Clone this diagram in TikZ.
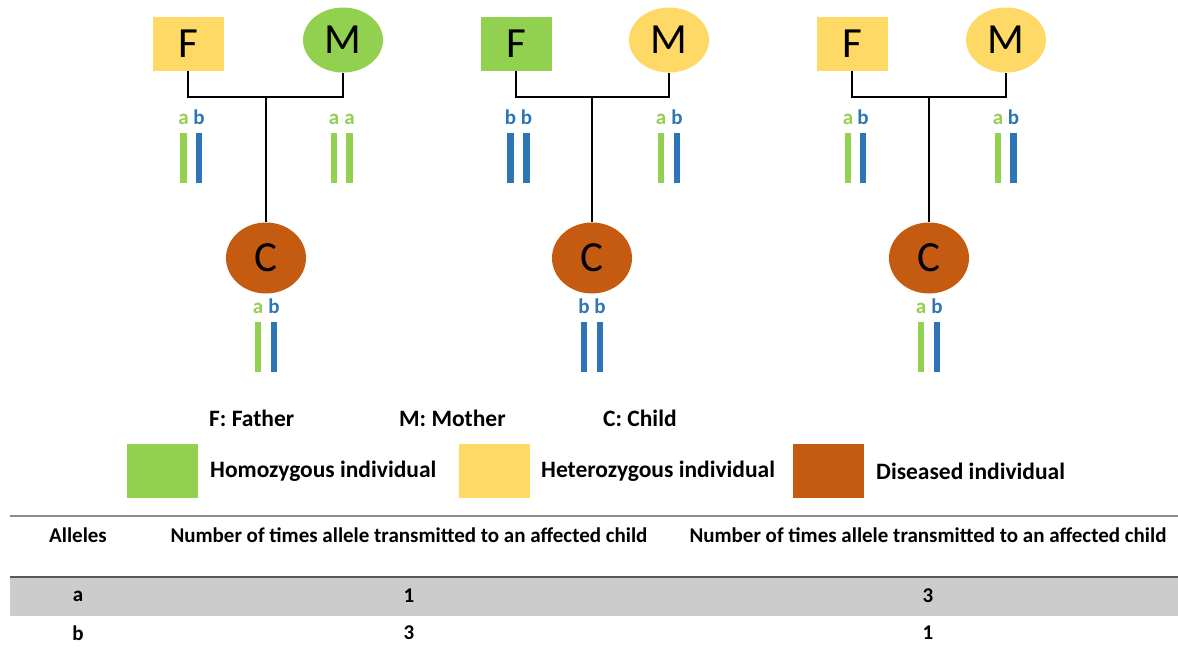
\documentclass[tikz,border=0pt]{standalone}
\usepackage{fontspec}
\setmainfont{Carlito}
\usetikzlibrary{shapes.geometric,positioning}

\definecolor{homo}{HTML}{92D050}
\definecolor{het}{HTML}{FFD966}
\definecolor{dis}{HTML}{C55A11}
\definecolor{chrom}{HTML}{2E75B6}
\definecolor{band}{HTML}{CCCCCC}
\definecolor{rulegray}{HTML}{8C8C8C}

\tikzset{
  person/.style={inner sep=0pt, font=\fontsize{43}{43}\selectfont},
  male/.style={person, rectangle, minimum width=71pt, minimum height=54pt},
  female/.style={person, ellipse, minimum width=80pt, minimum height=65pt},
  kid/.style={person, ellipse, fill=dis, minimum width=80pt, minimum height=71pt},
  link/.style={line width=1.3pt},
  bar/.style={rectangle, inner sep=0pt, minimum width=6.5pt, minimum height=50pt},
  lbl/.style={font=\bfseries\fontsize{21}{21}\selectfont, inner sep=0pt, anchor=base, yshift=8pt},
  alla/.style={bar, fill=homo, label={[lbl, text=homo]north:a}},
  allb/.style={bar, fill=chrom, label={[lbl, text=chrom]north:b}},
  key/.style={font=\bfseries\fontsize{23.5}{23.5}\selectfont, anchor=west, inner sep=0pt},
  swatch/.style={rectangle, inner sep=0pt, minimum width=71pt, minimum height=54pt},
  cell/.style={font=\bfseries\fontsize{21}{21}\selectfont, inner sep=0pt},
}

\begin{document}
\begin{tikzpicture}[x=1pt, y=-1pt, on grid]
	\useasboundingbox (0,0) rectangle (1178,649);

	% family 1
	\node[male, fill=het] (f1) at (188,44) {F};
	\node[female, fill=homo] (m1) [right=155pt of f1, yshift=4pt] {M};
	\coordinate (j1) at (266,97);
	\node[kid] (c1) at (266,258) {C};
	\draw[link] (f1.south) |- (j1) -| (m1.south);
	\draw[link] (j1) -- (c1);
	\node[alla] (f1a) at (183.5,158) {};
	\node[allb] (f1b) at (199,158) {};
	\node[alla] (m1a) at (334,158) {};
	\node[alla] (m1b) at (349.5,158) {};
	\node[alla] (c1a) at (258,346.5) {};
	\node[allb] (c1b) at (274,346.5) {};

	% family 2
	\node[male, fill=homo] (f2) at (516,44) {F};
	\node[female, fill=het] (m2) [right=153pt of f2, yshift=4pt] {M};
	\coordinate (j2) at (592,97);
	\node[kid] (c2) at (592,258) {C};
	\draw[link] (f2.south) |- (j2) -| (m2.south);
	\draw[link] (j2) -- (c2);
	\node[allb] (f2a) at (510.5,158) {};
	\node[allb] (f2b) at (526.5,158) {};
	\node[alla] (m2a) at (661,158) {};
	\node[allb] (m2b) at (677,158) {};
	\node[allb] (c2a) at (584,346.5) {};
	\node[allb] (c2b) at (600,346.5) {};

	% family 3
	\node[male, fill=het] (f3) at (852,44) {F};
	\node[female, fill=het] (m3) [right=154pt of f3, yshift=4pt] {M};
	\coordinate (j3) at (929,97);
	\node[kid] (c3) at (929,258) {C};
	\draw[link] (f3.south) |- (j3) -| (m3.south);
	\draw[link] (j3) -- (c3);
	\node[alla] (f3a) at (848,158) {};
	\node[allb] (f3b) at (863,158) {};
	\node[alla] (m3a) at (998,158) {};
	\node[allb] (m3b) at (1013.5,158) {};
	\node[alla] (c3a) at (921,346.5) {};
	\node[allb] (c3b) at (937,346.5) {};

	% legend
	\node[key] (kf) at (209,418) {F: Father};
	\node[key] (km) at (399,418) {M: Mother};
	\node[key] (kc) at (603,418) {C: Child};
	\node[swatch, fill=homo] (sh) at (162.5,470.5) {};
	\node[key] (th) at (210,471) {Homozygous individual};
	\node[swatch, fill=het] (sz) at (494,470.5) {};
	\node[key] (tz) at (541,471) {Heterozygous individual};
	\node[swatch, fill=dis] (sd) at (828,470.5) {};
	\node[key] (td) at (876,471) {Diseased individual};

	% table
	\draw[rulegray, line width=2pt] (10,516) -- (1178,516);
	\fill[band] (10,577) rectangle (1178,616);
	\draw[black!65, line width=1.5pt] (10,577) -- (1178,577);
	\node[cell] (hal) at (78,535) {Alleles};
	\node[cell] (hn1) at (409,535) {Number of times allele transmitted to an affected child};
	\node[cell] (hn2) at (928,535) {Number of times allele transmitted to an affected child};
	\node[cell] (ra) at (78,596) {a};
	\node[cell] (ra1) at (409,596) {1};
	\node[cell] (ra2) at (928,596) {3};
	\node[cell] (rb) at (78,633) {b};
	\node[cell] (rb1) at (409,633) {3};
	\node[cell] (rb2) at (928,633) {1};
\end{tikzpicture}
\end{document}
